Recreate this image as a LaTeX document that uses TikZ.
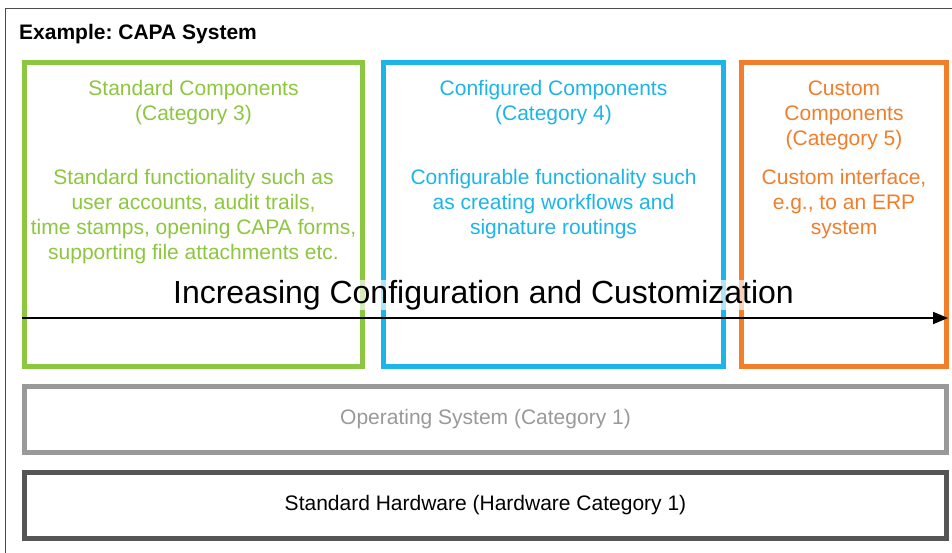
\documentclass[tikz,border=0pt]{standalone}
\usepackage{fontspec}
\setmainfont{Liberation Sans}
\usetikzlibrary{arrows.meta}
\frenchspacing
\definecolor{cgreen}{HTML}{8DC63F}
\definecolor{cblue}{HTML}{1DB5E8}
\definecolor{corange}{HTML}{F07E2B}
\definecolor{cgray}{HTML}{999999}
\definecolor{cdark}{HTML}{555555}
\tikzset{
  box/.style={draw, line width=5pt, inner sep=0pt, outer sep=0pt},
  body/.style={font=\fontsize{21}{25}\selectfont, align=center, inner sep=0pt, anchor=north},
}
\begin{document}
\frenchspacing
\begin{tikzpicture}[x=1pt,y=-1pt]
\useasboundingbox (0,0) rectangle (952,552);
\clip (0,0) rectangle (952,552);
\fill[white] (0,0) rectangle (952,552);
% outer frame
\coordinate (fbl) at (5,560);
\coordinate (ftr) at (960,8);
\draw[line width=1pt, black!70] (fbl) |- (ftr);
\node[anchor=base west, inner sep=0pt, font=\fontsize{21}{24}\selectfont\bfseries\frenchspacing] (title) at (19,39) {Example: CAPA System};
% boxes
\node[box, cgreen, minimum width=338.5, minimum height=303.5] (green) at (193.5,214.25) {};
\node[box, cblue, minimum width=340, minimum height=303.5] (blue) at (553.5,214.25) {};
\node[box, corange, minimum width=205, minimum height=303.5] (orange) at (844,214.25) {};
\node[box, cgray, minimum width=922, minimum height=66] (os) at (485.5,419.5) {};
\node[box, cdark, minimum width=922, minimum height=66] (hw) at (485.5,505.5) {};
% texts
\node[body, text=cgreen] (gh) at (193.5,80.5) {Standard Components\\(Category 3)};
\node[body, text=cgreen] (gd) at (193.5,169.5) {Standard functionality such as\\user accounts, audit trails,\\time stamps, opening CAPA forms,\\supporting file attachments etc.};
\node[body, text=cblue] (bh) at (553.5,80.5) {Configured Components\\(Category 4)};
\node[body, text=cblue] (bd) at (553.5,169.5) {Configurable functionality such\\as creating workflows and\\signature routings};
\node[body, text=corange] (oh) at (844,80.5) {Custom\\Components\\(Category 5)};
\node[body, text=corange] (od) at (844,169.5) {Custom interface,\\e.g., to an ERP\\system};
\node[font=\fontsize{21}{25}\selectfont, text=cgray] (ost) at (os) {Operating System (Category 1)};
\node[font=\fontsize{21}{25}\selectfont, text=black] (hwt) at (hw) {Standard Hardware (Hardware Category 1)};
% arrow
\coordinate (as) at (22,318);
\coordinate (ae) at (948,318);
\draw[line width=1.8pt, -{Triangle[length=15pt,width=12pt]}] (as) -- (ae);
\node[font=\fontsize{32}{36}\selectfont, fill=white, fill opacity=0.65, text opacity=1, inner xsep=1pt, inner ysep=0pt, anchor=base] (inc) at (483.5,303.5) {Increasing Configuration and Customization};
\end{tikzpicture}
\end{document}
